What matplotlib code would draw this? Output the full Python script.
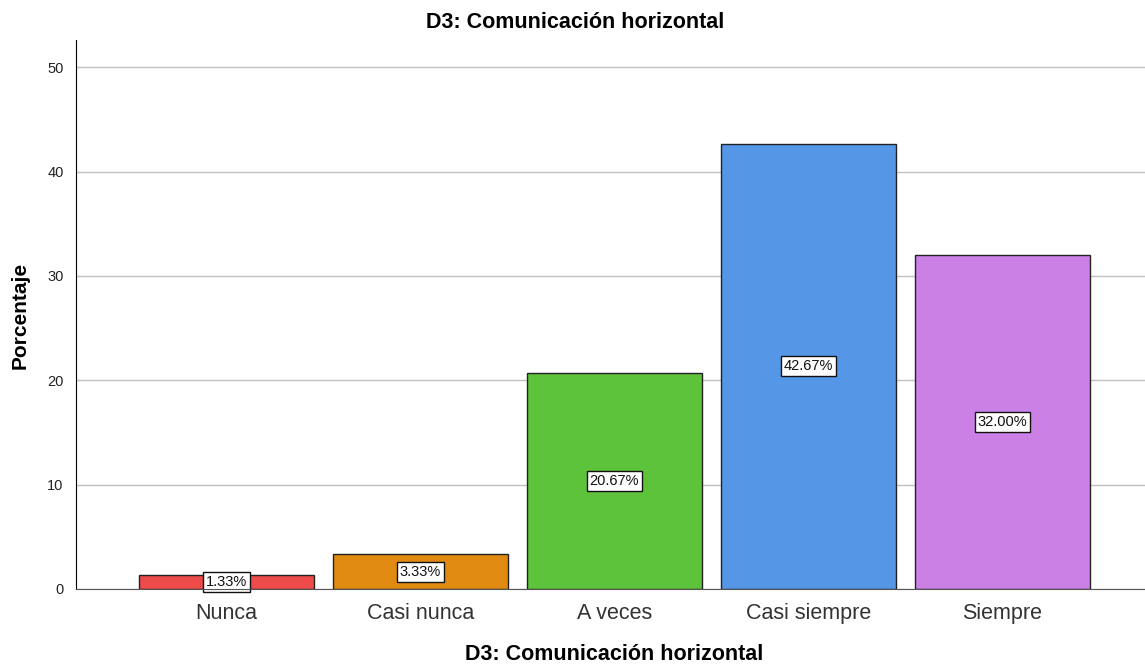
import matplotlib
matplotlib.use("Agg")
import matplotlib.pyplot as plt

plt.rcParams['font.family'] = ['Liberation Sans', 'DejaVu Sans']

# data
categorias = ['Nunca', 'Casi nunca', 'A veces', 'Casi siempre', 'Siempre']
porcentajes = [1.33, 3.33, 20.67, 42.67, 32.00]
colores = ['#EE4B4B', '#E08A11', '#5DC33B', '#5596E6', '#CB80E6']
yticks = [0, 10, 20, 30, 40, 50]

fig = plt.figure(figsize=(11.45, 6.64), dpi=100)
ax = fig.add_axes([76/1145, 1 - 589/664, (1145 - 76)/1145, (589 - 40)/664])

x = list(range(len(categorias)))
ax.bar(x, porcentajes, width=0.9, color=colores, edgecolor='#222222', linewidth=1, zorder=3)

for xi, v in zip(x, porcentajes):
    ax.text(xi, v / 2, f'{v:.2f}%', ha='center', va='center', fontsize=10.5, color='#111111',
            bbox=dict(boxstyle='square,pad=0.2', facecolor='white', edgecolor='#111111', linewidth=1),
            zorder=4)

ax.set_xlim(-0.776, 4.735)
ax.set_ylim(0, 52.6)
ax.set_yticks(yticks)
ax.set_xticks(x)
ax.set_xticklabels(categorias, fontsize=15.5, color='#333333')
ax.tick_params(axis='y', labelsize=10.5, length=0, pad=9, labelcolor='#222222')
ax.tick_params(axis='x', length=0, pad=10)
ax.grid(axis='y', color='#c0c0c0', linewidth=1, zorder=0)

for s in ['top', 'right']:
    ax.spines[s].set_visible(False)
ax.spines['left'].set_color('#000000')
ax.spines['bottom'].set_color('#555555')
ax.spines['left'].set_zorder(5)
ax.spines['bottom'].set_zorder(5)

fig.text(20/1145, 1 - 315/664, 'Porcentaje', ha='center', va='center', rotation=90,
         fontsize=15, fontweight='bold')
fig.text(614/1145, 1 - 654/664, 'D3: Comunicación horizontal', ha='center', va='center',
         fontsize=15.5, fontweight='bold')
fig.text(575/1145, 1 - 22/664, 'D3: Comunicación horizontal', ha='center', va='center',
         fontsize=15.5, fontweight='bold')

fig.savefig('out.png', dpi=100)
